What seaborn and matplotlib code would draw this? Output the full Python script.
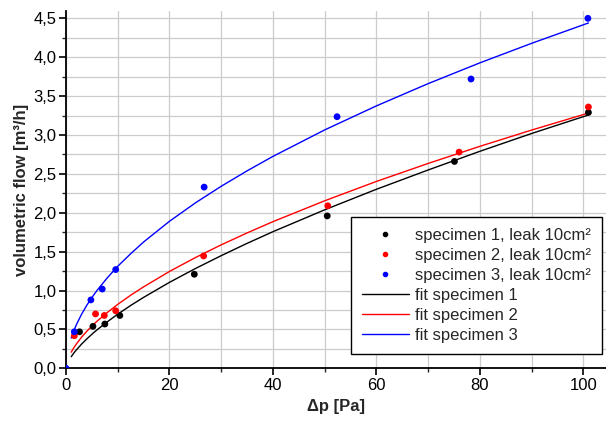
import numpy as np
import pandas as pd
import matplotlib
matplotlib.use("Agg")
import matplotlib.pyplot as plt
import seaborn as sns
from matplotlib.ticker import MultipleLocator, FuncFormatter
from matplotlib.lines import Line2D

# measured points (dp in Pa, flow in m3/h)
dp_s1 = [2.6, 5.2, 7.5, 10.4, 24.8, 50.5, 75.1, 101.0]
flow_s1 = [0.47, 0.54, 0.57, 0.68, 1.21, 1.96, 2.66, 3.29]
dp_s2 = [1.6, 5.7, 7.4, 9.6, 26.6, 50.6, 76.0, 101.0]
flow_s2 = [0.42, 0.70, 0.68, 0.74, 1.445, 2.09, 2.78, 3.36]
dp_s3 = [0.0, 1.6, 4.8, 7.0, 9.6, 26.7, 52.4, 78.3, 100.9]
flow_s3 = [0.0, 0.47, 0.88, 1.02, 1.27, 2.33, 3.235, 3.72, 4.50]

# fit curves
fit_dp = [1, 1.5, 2, 3, 4, 5, 6, 8, 10, 12.5, 15, 20, 25, 30, 35, 40, 50, 60, 70, 80, 90, 101]
fit_s1 = [0.15, 0.197, 0.238, 0.312, 0.378, 0.439, 0.496, 0.600, 0.697, 0.809, 0.913, 1.106,
          1.283, 1.449, 1.607, 1.757, 2.038, 2.302, 2.550, 2.790, 3.019, 3.257]
fit_s2 = [0.208, 0.265, 0.314, 0.401, 0.476, 0.544, 0.607, 0.720, 0.823, 0.941, 1.048, 1.246,
          1.424, 1.588, 1.741, 1.886, 2.154, 2.403, 2.634, 2.854, 3.063, 3.282]
fit_s3 = [0.39, 0.483, 0.562, 0.696, 0.810, 0.911, 1.003, 1.166, 1.313, 1.474, 1.625, 1.891,
          2.127, 2.341, 2.539, 2.725, 3.065, 3.374, 3.660, 3.927, 4.178, 4.44]

colors = ["black", "red", "blue"]
point_labels = ["specimen 1, leak 10cm²", "specimen 2, leak 10cm²", "specimen 3, leak 10cm²"]
fit_labels = ["fit specimen 1", "fit specimen 2", "fit specimen 3"]

sns.set_style("ticks")
plt.rcParams["font.family"] = ["Liberation Sans", "DejaVu Sans"]
plt.rcParams["font.size"] = 12

fig = plt.figure(figsize=(6.06, 4.21), dpi=100)
ax = fig.add_axes([0.109, 0.125, 0.891, 0.85])

fits = [fit_s1, fit_s2, fit_s3]
for ys, c in zip(fits, colors):
    sns.lineplot(x=fit_dp, y=ys, color=c, lw=1.0, ax=ax, zorder=3)

points = [(dp_s1, flow_s1), (dp_s2, flow_s2), (dp_s3, flow_s3)]
for (xs, ys), c in zip(points, colors):
    sns.scatterplot(x=xs, y=ys, color=c, s=24, edgecolor="none", ax=ax, zorder=4)

ax.set_xlim(0, 104.4)
ax.set_ylim(0, 4.6)
ax.xaxis.set_major_locator(MultipleLocator(20))
ax.xaxis.set_minor_locator(MultipleLocator(10))
ax.yaxis.set_major_locator(MultipleLocator(0.5))
ax.yaxis.set_minor_locator(MultipleLocator(0.25))
ax.yaxis.set_major_formatter(FuncFormatter(lambda v, p: f"{v:.1f}".replace(".", ",")))
ax.xaxis.set_major_formatter(FuncFormatter(lambda v, p: f"{v:.0f}"))

ax.grid(True, which="both", color="#cccccc", lw=0.9)
ax.set_axisbelow(True)
for side in ["top", "right"]:
    ax.spines[side].set_visible(False)
for side in ["left", "bottom"]:
    ax.spines[side].set_linewidth(1.3)
    ax.spines[side].set_color("black")

ax.tick_params(which="major", direction="out", length=5, width=1.2, labelsize=12,
               colors="black", pad=2)
ax.tick_params(which="minor", direction="out", length=3, width=1.0)

ax.set_xlabel("Δp [Pa]", fontsize=12, fontweight="bold", labelpad=4)
ax.set_ylabel("volumetric flow [m³/h]", fontsize=12, fontweight="bold", labelpad=3)

handles = [Line2D([], [], ls="none", marker="o", ms=3, color=c) for c in colors]
handles += [Line2D([], [], lw=1.0, color=c) for c in colors]
leg = ax.legend(handles, point_labels + fit_labels, loc="lower right",
                bbox_to_anchor=(0.993, 0.041), fontsize=12, frameon=True,
                fancybox=False, framealpha=1, edgecolor="black",
                handlelength=2.8, labelspacing=0.3, borderpad=0.65,
                handletextpad=0.4, borderaxespad=0)
leg.get_frame().set_linewidth(1.0)

fig.savefig("out.png", dpi=100)
